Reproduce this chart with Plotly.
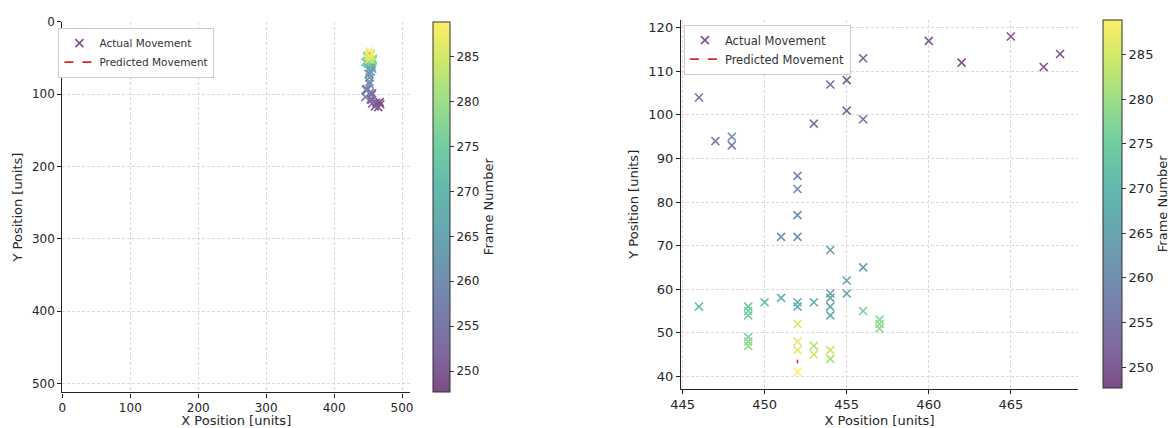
import plotly.graph_objects as go
from plotly.colors import sequential, hex_to_rgb

# ---- data ----
x_pos = [468, 467, 465, 462, 460, 456, 455, 454, 455, 456, 453, 446, 447, 448, 448,
         452, 452, 452, 451, 452, 454, 456, 455, 455, 454, 454, 454, 454, 453, 452,
         452, 451, 450, 446, 449, 449, 449, 456, 457, 457, 457, 449, 449, 449, 454,
         454, 453, 453, 452, 452, 452, 452]
y_pos = [114, 111, 118, 112, 117, 113, 108, 107, 101, 99, 98, 104, 94, 95, 93,
         86, 83, 77, 72, 72, 69, 65, 62, 59, 59, 58, 56, 54, 57, 57,
         56, 58, 57, 56, 56, 55, 54, 55, 53, 52, 51, 49, 48, 47, 44,
         46, 47, 45, 52, 48, 46, 41]
frames = [248, 248, 249, 249, 250, 251, 251, 252, 252, 253, 254, 255, 256, 258, 257,
          259, 259, 260, 261, 261, 263, 263, 264, 265, 265, 266, 266, 267, 267, 268,
          268, 269, 271, 273, 274, 275, 275, 276, 278, 278, 279, 277, 278, 279, 281,
          284, 282, 284, 286, 286, 287, 289]
pred_x = [452, 452]
pred_y = [43.8, 43.0]

frame_min, frame_max = 248, 289
cb_ticks = [250, 255, 260, 265, 270, 275, 280, 285]

# viridis blended with white at alpha 0.7 (matplotlib alpha look)
alpha = 0.7
vir = sequential.Viridis
scale = []
for i, h in enumerate(vir):
    r, g, b = hex_to_rgb(h)
    r, g, b = [round(c * alpha + 255 * (1 - alpha)) for c in (r, g, b)]
    scale.append([i / (len(vir) - 1), f"rgb({r},{g},{b})"])

W, H = 1176, 428
FAM = "DejaVu Sans, Arial, sans-serif"
font_r = dict(family=FAM, size=13, color="#262626")
font_l = dict(family=FAM, size=12, color="#262626")

fig = go.Figure()

panels = [
    dict(xa="x", ya="y", legend="legend", cbx=427 / W, cbthick=17, cby=(15, 392), f=font_l),
    dict(xa="x2", ya="y2", legend="legend2", cbx=1105 / W, cbthick=19, cby=(13, 388), f=font_r),
]
for p in panels:
    y0, y1 = p["cby"]
    fig.add_trace(go.Scatter(
        x=x_pos, y=y_pos, mode="markers", name="Actual Movement",
        xaxis=p["xa"], yaxis=p["ya"], legend=p["legend"],
        marker=dict(symbol="x-thin-open", size=8, color=frames, colorscale=scale,
                    cmin=frame_min - 0.3, cmax=frame_max - 0.1, line=dict(width=1.6),
                    colorbar=dict(
                        x=p["cbx"], xanchor="left", xpad=0, ypad=0,
                        y=1 - (y0 + y1) / 2 / H, yanchor="middle",
                        len=(y1 - y0) / H, lenmode="fraction",
                        thickness=p["cbthick"], thicknessmode="pixels",
                        outlinewidth=1, outlinecolor="#333",
                        tickvals=cb_ticks, ticks="outside", ticklen=4,
                        tickcolor="#333", tickfont=p["f"],
                        title=dict(text="Frame Number", side="right", font=font_r),
                    )),
    ))
    fig.add_trace(go.Scatter(
        x=pred_x, y=pred_y, mode="lines", name="Predicted Movement",
        xaxis=p["xa"], yaxis=p["ya"], legend=p["legend"],
        line=dict(color="#d62728", dash="dash", width=1.6),
    ))

def axis(f):
    return dict(
        showline=True, linecolor="#222", linewidth=1.3, mirror=False,
        ticks="outside", ticklen=4, tickcolor="#222", tickfont=f,
        showgrid=True, gridcolor="#d9d9d9", gridwidth=0.8, griddash="3px,2px",
        zeroline=False, title_font=font_r,
    )

fig.update_layout(
    width=W, height=H, margin=dict(l=0, r=0, t=0, b=0),
    paper_bgcolor="white", plot_bgcolor="white", font=font_r,
    xaxis=dict(domain=[52 / W, 404 / W], anchor="y", range=[0, 512],
               tickvals=[0, 100, 200, 300, 400, 500],
               title=dict(text="X Position [units]", standoff=4), **axis(font_l)),
    yaxis=dict(domain=[1 - 392.7 / H, 1 - 15 / H], anchor="x", range=[512, 0],
               tickvals=[0, 100, 200, 300, 400, 500],
               title=dict(text="Y Position [units]", standoff=6), **axis(font_l)),
    xaxis2=dict(domain=[678 / W, 1080 / W], anchor="y2", range=[444.9, 469.1],
                tickvals=[445, 450, 455, 460, 465],
                title=dict(text="X Position [units]", standoff=4), **axis(font_r)),
    yaxis2=dict(domain=[1 - 389 / H, 1 - 13 / H], anchor="x2", range=[37.15, 121.85],
                tickvals=[40, 50, 60, 70, 80, 90, 100, 110, 120],
                title=dict(text="Y Position [units]", standoff=6), **axis(font_r)),
    legend=dict(x=48 / W, y=1 - 21 / H, xanchor="left", yanchor="top",
                bgcolor="white", bordercolor="#cccccc", borderwidth=1,
                font=dict(family=FAM, size=10.5, color="#333"),
                tracegroupgap=0, itemwidth=30),
    legend2=dict(x=681 / W, y=1 - 18 / H, xanchor="left", yanchor="top",
                 bgcolor="white", bordercolor="#cccccc", borderwidth=1,
                 font=dict(family=FAM, size=11.5, color="#333"),
                 tracegroupgap=0, itemwidth=30),
    showlegend=True,
)

fig.write_html("out.html")
